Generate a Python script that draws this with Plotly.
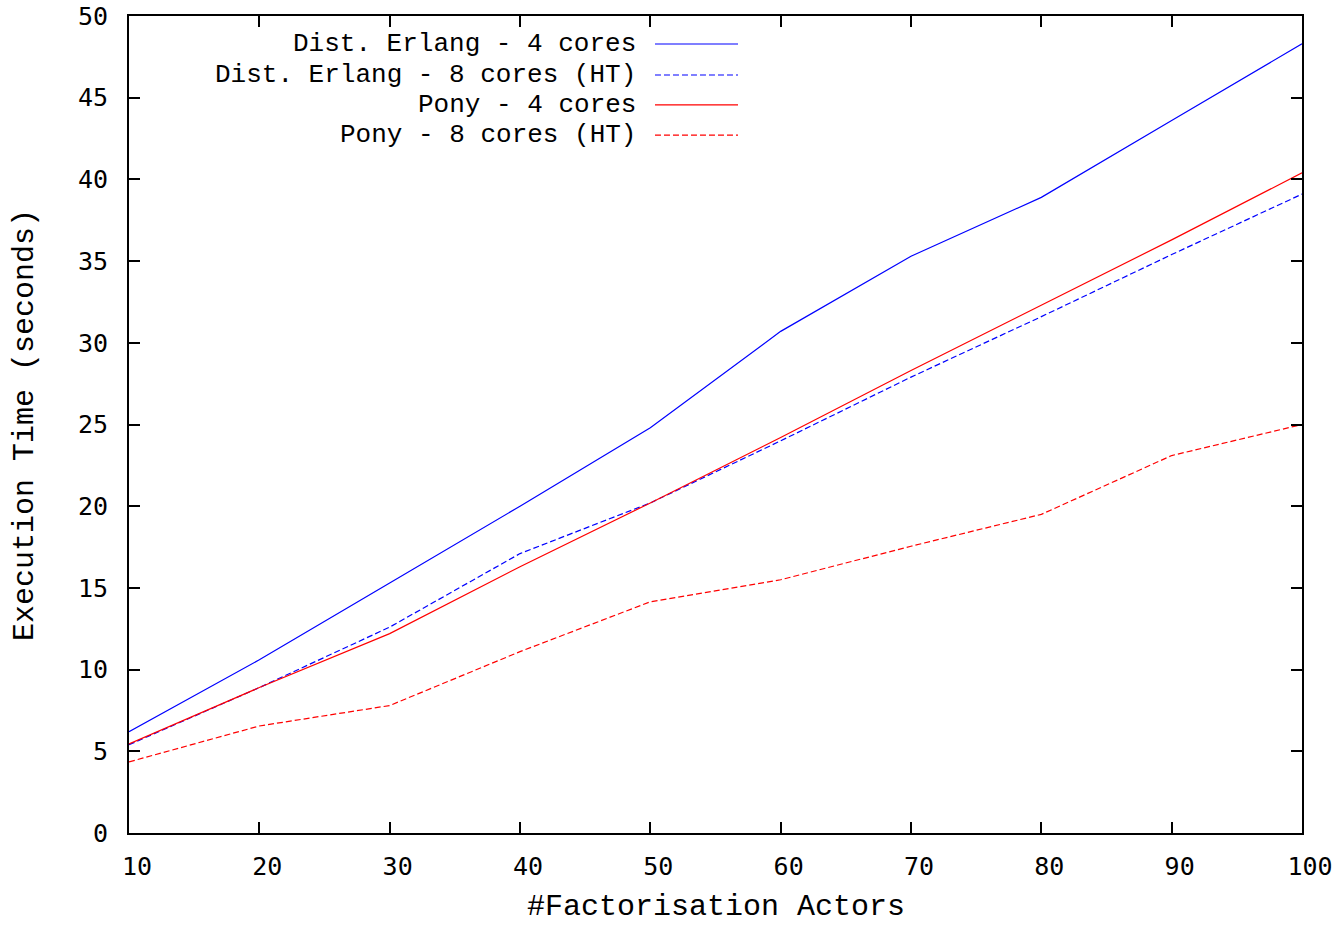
import plotly.graph_objects as go

actors = [10, 20, 30, 40, 50, 60, 70, 80, 90, 100]
erlang_4 = [6.2, 10.6, 15.3, 20.0, 24.8, 30.7, 35.3, 38.9, 43.6, 48.3]
erlang_8ht = [5.4, 8.9, 12.6, 17.1, 20.2, 24.0, 27.9, 31.6, 35.4, 39.1]
pony_4 = [5.45, 8.9, 12.2, 16.3, 20.2, 24.2, 28.3, 32.3, 36.3, 40.4]
pony_8ht = [4.35, 6.55, 7.8, 11.1, 14.15, 15.5, 17.55, 19.5, 23.1, 25.0]

names = ["Dist. Erlang - 4 cores", "Dist. Erlang - 8 cores (HT)",
         "Pony - 4 cores", "Pony - 8 cores (HT)"]
series = [erlang_4, erlang_8ht, pony_4, pony_8ht]
colors = ["#0000ff", "#0000ff", "#ff0000", "#ff0000"]
dashes = ["solid", "6px,3px", "solid", "6px,3px"]

y_ticks = [0, 5, 10, 15, 20, 25, 30, 35, 40, 45, 50]
x_ticks = [10, 20, 30, 40, 50, 60, 70, 80, 90, 100]

x_title = "#Factorisation Actors"
y_title = "Execution Time (seconds)"

SERIF_MONO = "Liberation Mono, Courier New, monospace"
SANS_MONO = "DejaVu Sans Mono, monospace"

fig = go.Figure()
for name, ys, c, d in zip(names, series, colors, dashes):
    fig.add_trace(go.Scatter(x=actors, y=ys, mode="lines", name=name,
                             line=dict(color=c, width=1.2, dash=d),
                             showlegend=False))

# custom gnuplot-style legend (text right-aligned, sample on the right)
leg_y = [0.9657, 0.9278, 0.8911, 0.8543]
for name, c, d, yy in zip(names, colors, dashes, leg_y):
    fig.add_annotation(xref="paper", yref="paper", x=0.4340, y=yy,
                       text=name, showarrow=False, xanchor="right",
                       yanchor="middle",
                       font=dict(family=SERIF_MONO, size=26, color="black"))
    fig.add_shape(type="line", xref="paper", yref="paper",
                  x0=0.4484, x1=0.5192, y0=yy, y1=yy,
                  line=dict(color=c, width=1.2, dash=d))

# axis titles placed as annotations
fig.add_annotation(xref="paper", yref="paper", x=0, y=0.4994, xshift=-104,
                   text=y_title, textangle=-90, showarrow=False,
                   xanchor="center", yanchor="middle",
                   font=dict(family=SERIF_MONO, size=30, color="black"))
fig.add_annotation(xref="paper", yref="paper", x=0.5, y=0, yshift=-74,
                   text=x_title, showarrow=False,
                   xanchor="center", yanchor="middle",
                   font=dict(family=SERIF_MONO, size=30, color="black"))

axis_common = dict(showline=True, linecolor="black", linewidth=2,
                   mirror="ticks", ticks="inside", ticklen=11,
                   tickwidth=2, tickcolor="black", showgrid=False,
                   zeroline=False, automargin=False,
                   tickfont=dict(family=SANS_MONO, size=25, color="black"))

fig.update_xaxes(range=[10, 100], tickvals=x_ticks,
                 ticktext=[str(v) for v in x_ticks],
                 ticklabelstandoff=10, ticklabelshift=8,
                 **axis_common)
fig.update_yaxes(range=[0, 50], tickvals=y_ticks,
                 ticktext=[str(v) for v in y_ticks],
                 ticklabelstandoff=14,
                 **axis_common)

fig.update_layout(width=1344, height=925,
                  margin=dict(l=129, r=42, t=16, b=92),
                  plot_bgcolor="white", paper_bgcolor="white")

fig.write_html("out.html")
